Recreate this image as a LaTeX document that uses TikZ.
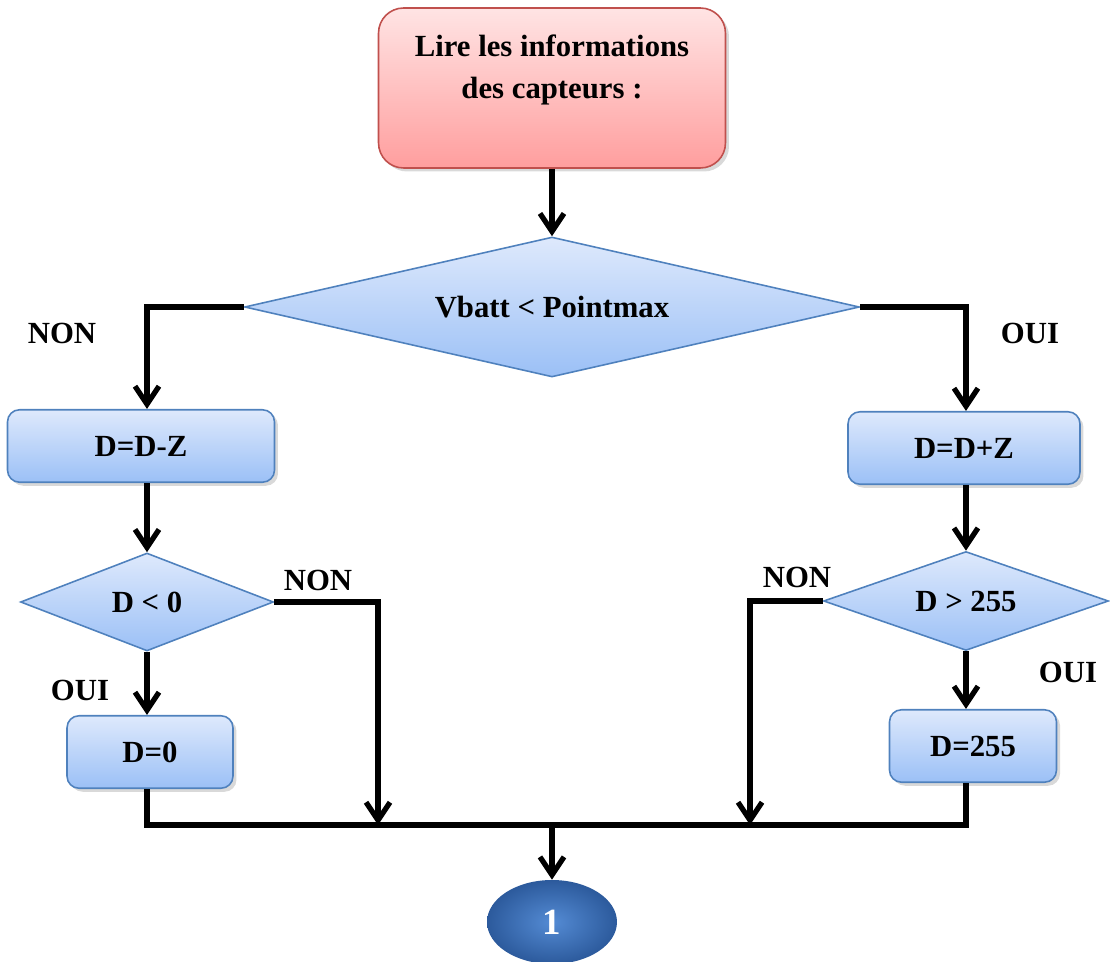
\documentclass[tikz,border=0pt]{standalone}
\usepackage{fontspec}
\setmainfont{Liberation Serif}
\usetikzlibrary{calc}
\usetikzlibrary{positioning}
\usetikzlibrary{shapes.geometric}
\usetikzlibrary{arrows.meta}
\usetikzlibrary{shadows}

\definecolor{pinktop}{RGB}{255,228,228}
\definecolor{pinkbot}{RGB}{255,158,158}
\definecolor{pinkline}{RGB}{192,80,77}
\definecolor{bluetop}{RGB}{222,233,252}
\definecolor{bluebot}{RGB}{155,192,246}
\definecolor{blueline}{RGB}{79,129,189}
\definecolor{balllight}{RGB}{84,139,212}
\definecolor{balldark}{RGB}{44,90,156}

\tikzset{
    txt/.style={font=\fontsize{17.5}{24}\selectfont\bfseries},
    shade/.style={drop shadow={opacity=0.3, shadow xshift=2pt, shadow yshift=-2pt}},
    startbox/.style={txt, draw=pinkline, line width=0.9pt, rounded corners=0.5cm,
        top color=pinktop, bottom color=pinkbot, shade, align=center,
        minimum width=6.94cm, minimum height=3.2cm},
    box/.style={txt, draw=blueline, line width=0.9pt, rounded corners=0.24cm,
        top color=bluetop, bottom color=bluebot, shade, minimum height=1.45cm},
    choice/.style={txt, diamond, draw=blueline, line width=0.9pt,
        top color=bluetop, bottom color=bluebot, inner sep=0pt},
    link/.style={line width=3pt},
    arr/.style={link, -{Straight Barb[length=0.36cm, width=0.48cm]}},
}

\begin{document}
\begin{tikzpicture}[x=0.02cm, y=-0.02cm]
            \useasboundingbox (0,0) rectangle (1110,962);

            \node[startbox] (lire) at (552,88) {Lire les informations\\des capteurs :\\ ~};
            \node[choice, aspect=4.39, minimum width=12.3cm, minimum height=2.8cm] (vbatt) at (552,307) {Vbatt < Pointmax};
            \draw[arr] (lire) -- (vbatt);

            % Left branch
            \node[box, minimum width=5.34cm] (dmz) at (141,446) {D=D-Z};
            \node[choice, aspect=2.58, minimum width=5.06cm, minimum height=1.96cm] (dlt) at (147,602) {D < 0};
            \node[box, minimum width=3.32cm] (d0) at (150,752) {D=0};
            \node[txt] (nonA) at (62,333) {NON};
            \node[txt] (nonB) at (318,580) {NON};
            \node[txt] (ouiB) at (80,690) {OUI};
            \draw[arr] (vbatt.west) -| (dlt.north |- dmz.north);
            \draw[arr] (dlt.north |- dmz.south) -- (dlt.north);
            \draw[arr] (dlt.south) -- (dlt.south |- d0.north);

            % Right branch
            \node[box, minimum width=4.64cm] (dpz) at (964,448) {D=D+Z};
            \node[choice, aspect=2.9, minimum width=5.7cm, minimum height=1.98cm] (dgt) at (966,601) {D > 255};
            \node[box, minimum width=3.34cm] (d255) at (973,746) {D=255};
            \node[txt] (ouiA) at (1030,333) {OUI};
            \node[txt] (nonC) at (797,577) {NON};
            \node[txt] (ouiC) at (1068,672) {OUI};
            \draw[arr] (vbatt.east) -| (dgt.north |- dpz.north);
            \draw[arr] (dgt.north |- dpz.south) -- (dgt.north);
            \draw[arr] (dgt.south) -- (dgt.south |- d255.north);

            % Joining everything
            \coordinate (bus) at (552,825);
            \coordinate (jL) at (378,825);
            \coordinate (jR) at (750,825);
            \node[ellipse, minimum width=2.6cm, minimum height=1.68cm, inner color=balllight,
                outer color=balldark, text=white, font=\fontsize{21}{24}\selectfont\bfseries] (one) at (552,922) {1};
            \draw[link] (dlt.south |- d0.south) -- (dlt.south |- bus) -- (dgt.south |- bus) -- (dgt.south |- d255.south);
            \draw[arr] (dlt.east) -| (jL);
            \draw[arr] (dgt.west) -| (jR);
            \draw[arr] (bus) -- (one);
\end{tikzpicture}
\end{document}
